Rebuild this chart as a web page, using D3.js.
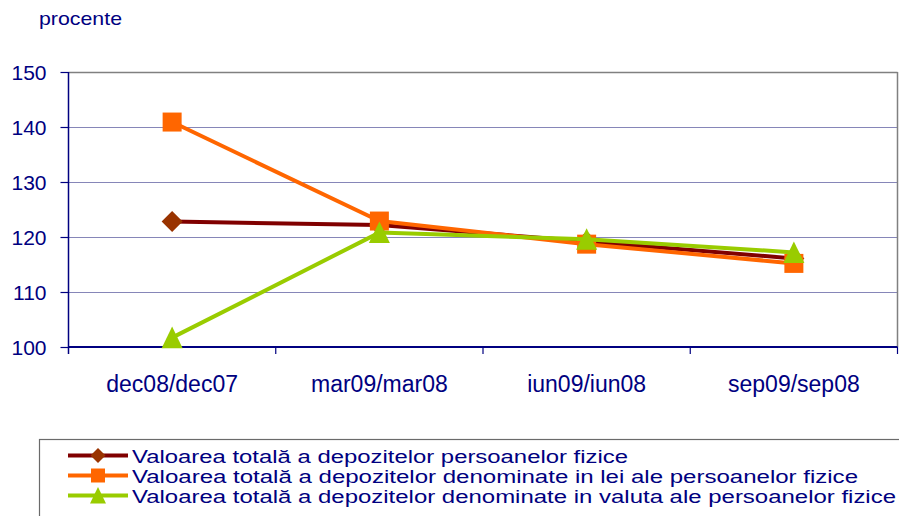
<!DOCTYPE html>
<html>
<head>
<meta charset="utf-8">
<script src="https://cdn.jsdelivr.net/npm/d3@7"></script>
<style>
html,body{margin:0;padding:0;background:#fff;}
svg{display:block;font-family:"Liberation Sans",Arial,sans-serif;}
</style>
</head>
<body>
<svg id="chart" width="899" height="516"></svg>
<script>
const categories = ["dec08/dec07", "mar09/mar08", "iun09/iun08", "sep09/sep08"];
const seriesNames = [
  "Valoarea totală a depozitelor persoanelor fizice",
  "Valoarea totală a depozitelor denominate in lei ale persoanelor fizice",
  "Valoarea totală a depozitelor denominate in valuta ale persoanelor fizice"
];
const totalValues = [122.8, 122.2, 119.2, 116.1];
const leiValues = [140.9, 122.9, 118.7, 115.2];
const valutaValues = [101.7, 120.8, 119.6, 117.2];
const yTicks = [100, 110, 120, 130, 140, 150];
const yLabel = "procente";

(function () {
const series = [
  {name: seriesNames[0], values: totalValues, line: "#800000", fill: "#993300", marker: "diamond"},
  {name: seriesNames[1], values: leiValues, line: "#FF6600", fill: "#FF6600", marker: "square"},
  {name: seriesNames[2], values: valutaValues, line: "#99CC00", fill: "#99CC00", marker: "triangle"}
];
const legendWidths = [496, 726, 764];

const svg = d3.select("#chart");
const navy = "#000080";
const pLeft = 68.5, pRight = 897.5, pTop = 72, pBottom = 347;

const x = d3.scaleBand().domain(categories).range([pLeft, pRight]).padding(0);
const y = d3.scaleLinear().domain([100, 150]).range([pBottom, pTop]);

// gridlines
svg.append("g").selectAll("line").data(yTicks.filter(d => d > 100)).join("line")
  .attr("x1", pLeft).attr("x2", pRight)
  .attr("y1", d => Math.round(y(d)) + 0.5).attr("y2", d => Math.round(y(d)) + 0.5)
  .attr("stroke", d => d === 150 ? "#808080" : "#8686b8").attr("stroke-width", d => d === 150 ? 1.5 : 1);
// right border
svg.append("line").attr("x1", pRight).attr("x2", pRight).attr("y1", pTop).attr("y2", pBottom)
  .attr("stroke", "#808080").attr("stroke-width", 1.5);

// y axis
const yAxis = svg.append("g").attr("transform", `translate(${pLeft},0)`)
  .call(d3.axisLeft(y).tickValues(yTicks).tickSize(8).tickPadding(14).tickFormat(d3.format("d")));
yAxis.select(".domain").attr("stroke", navy).attr("stroke-width", 1.5).attr("d", `M0,${pTop}V${pBottom + 7}`);
yAxis.selectAll(".tick line").attr("stroke", navy).attr("stroke-width", 1.2);
yAxis.selectAll(".tick text").attr("fill", navy).attr("font-size", "21px").attr("font-family", "Liberation Sans, Arial, sans-serif").attr("dy", "0.34em");

// x axis
const xAxis = svg.append("g").attr("transform", `translate(0,${pBottom})`)
  .call(d3.axisBottom(x).tickSize(0).tickPadding(29));
xAxis.select(".domain").attr("stroke", navy).attr("stroke-width", 2).attr("d", `M${pLeft},0H${pRight}`);
xAxis.selectAll(".tick text").attr("fill", navy).attr("font-size", "23px").attr("font-family", "Liberation Sans, Arial, sans-serif").attr("dy", "0.71em");
// category boundary ticks
const bounds = categories.map(c => x(c)).concat([x(categories[categories.length - 1]) + x.bandwidth()]);
xAxis.selectAll(".bt").data(bounds.slice(1)).join("line").attr("class", "bt")
  .attr("x1", d => d).attr("x2", d => d).attr("y1", 0).attr("y2", 7)
  .attr("stroke", navy).attr("stroke-width", 1.2);

// y label
svg.append("text").attr("x", 39).attr("y", 25).attr("fill", navy).attr("font-size", "19px")
  .attr("textLength", 83).attr("lengthAdjust", "spacingAndGlyphs").text(yLabel);

function markerPath(type, s) {
  if (type === "diamond") return `M0,${-s}L${s},0L0,${s}L${-s},0Z`;
  if (type === "square") return `M${-s},${-s}H${s}V${s}H${-s}Z`;
  return `M0,${-s * 1.05}L${s},${s}H${-s}Z`;
}
const markerSize = {diamond: 10.5, square: 9.5, triangle: 10.5};

const cx = c => x(c) + x.bandwidth() / 2;
const line = d3.line().x(d => cx(d.c)).y(d => y(d.v));

series.forEach(s => {
  const pts = categories.map((c, i) => ({c, v: s.values[i]}));
  const g = svg.append("g");
  g.append("path").datum(pts).attr("d", line).attr("fill", "none")
    .attr("stroke", s.line).attr("stroke-width", 4).attr("stroke-linejoin", "round");
  g.selectAll("path.m").data(pts).join("path").attr("class", "m")
    .attr("transform", d => `translate(${cx(d.c)},${y(d.v)})`)
    .attr("d", markerPath(s.marker, markerSize[s.marker])).attr("fill", s.fill);
});

// legend
const lg = svg.append("g");
lg.append("rect").attr("x", 39.5).attr("y", 439.5).attr("width", 880).attr("height", 100)
  .attr("fill", "#fff").attr("stroke", "#6a6a6a").attr("stroke-width", 1.2);
const lsize = {diamond: 7.5, square: 7, triangle: 8};
series.forEach((s, i) => {
  const by = 462.5 + i * 20;
  const ly = by - 7;
  lg.append("line").attr("x1", 68).attr("x2", 128).attr("y1", ly).attr("y2", ly)
    .attr("stroke", s.line).attr("stroke-width", 4);
  lg.append("path").attr("transform", `translate(98,${ly})`)
    .attr("d", markerPath(s.marker, lsize[s.marker])).attr("fill", s.fill);
  lg.append("text").attr("x", 132).attr("y", by).attr("fill", navy).attr("font-size", "17.5px")
    .attr("textLength", legendWidths[i]).attr("lengthAdjust", "spacingAndGlyphs").text(s.name);
});
})();
</script>
</body>
</html>
